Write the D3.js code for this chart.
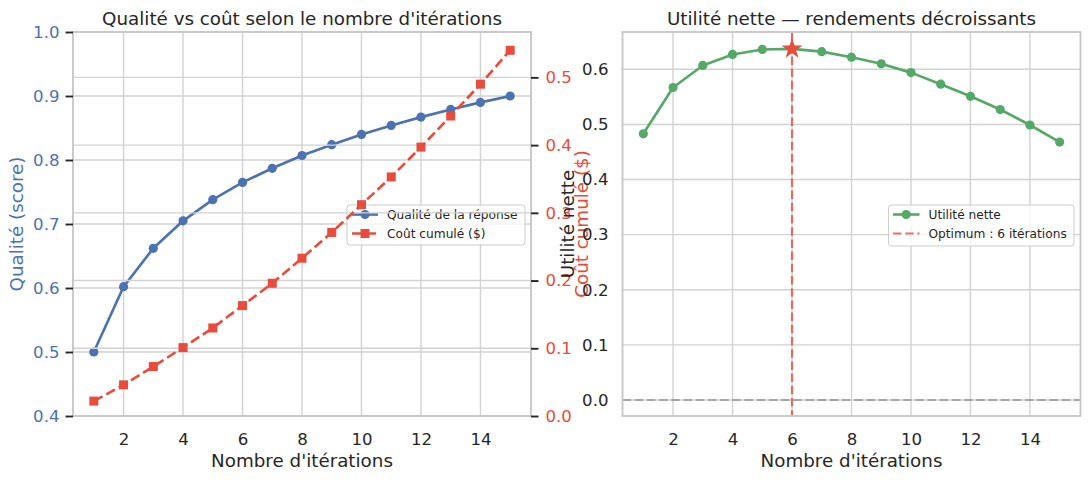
<!DOCTYPE html>
<html>
<head>
<meta charset="utf-8">
<script src="https://cdn.jsdelivr.net/npm/d3@7"></script>
<style>
  html, body { margin: 0; padding: 0; background: #ffffff; }
  svg { display: block; font-family: "DejaVu Sans", sans-serif; }
</style>
</head>
<body>
<svg id="chart" width="1090" height="482"></svg>
<script>
// ---------------- DATA ----------------
const iterations = [1, 2, 3, 4, 5, 6, 7, 8, 9, 10, 11, 12, 13, 14, 15];
const quality = [0.500, 0.602, 0.662, 0.705, 0.738, 0.765, 0.787, 0.807, 0.824, 0.840, 0.854, 0.867, 0.879, 0.890, 0.900];
const cost = [0.022, 0.046, 0.073, 0.101, 0.130, 0.163, 0.196, 0.233, 0.271, 0.312, 0.353, 0.397, 0.443, 0.490, 0.540];
const utility = [0.483, 0.567, 0.607, 0.627, 0.636, 0.637, 0.632, 0.622, 0.610, 0.594, 0.573, 0.551, 0.527, 0.499, 0.468];
const optimumIter = 6;
const xTicks = [2, 4, 6, 8, 10, 12, 14];
const qualityTicks = [0.4, 0.5, 0.6, 0.7, 0.8, 0.9, 1.0];
const costTicks = [0.0, 0.1, 0.2, 0.3, 0.4, 0.5];
const utilityTicks = [0.0, 0.1, 0.2, 0.3, 0.4, 0.5, 0.6];
const titleLeft = "Qualité vs coût selon le nombre d'itérations";
const titleRight = "Utilité nette — rendements décroissants";
const xLabel = "Nombre d'itérations";
const yLabelQuality = "Qualité (score)";
const yLabelCost = "Coût cumulé ($)";
const yLabelUtility = "Utilité nette";
const legendLeft = ["Qualité de la réponse", "Coût cumulé ($)"];
const legendRight = ["Utilité nette", "Optimum : 6 itérations"];

// ---------------- STYLE ----------------
const C = {
  text: "#262626", grid: "#d2d2d2", spine: "#c8c8c8",
  blue: "#4c72b0", red: "#e74c3c", green: "#55a868"
};
const FS = { title: 18.3, label: 18.3, tick: 16.6, legend: 12.2 };

const svg = d3.select("#chart");
svg.append("rect").attr("width", 1090).attr("height", 482).attr("fill", "#fff");

// ---------------- SCALES ----------------
const plotTop = 32, plotBottom = 416;
const x1 = d3.scaleLinear().domain([0.3, 15.7]).range([73, 531]);
const yQ = d3.scaleLinear().domain([0.4, 1.0]).range([plotBottom, plotTop]);
const yC = d3.scaleLinear().domain([0, 0.567]).range([plotBottom, plotTop]);
const x2 = d3.scaleLinear().domain([0.3, 15.7]).range([622.5, 1080.5]);
const yU = d3.scaleLinear().domain([-0.029, 0.6677]).range([plotBottom, plotTop]);
const fmt = d3.format(".1f");

function gridX(g, x, y0, y1) {
  g.selectAll(null).data(xTicks).enter().append("line")
    .attr("x1", d => x(d)).attr("x2", d => x(d))
    .attr("y1", y0).attr("y2", y1)
    .attr("stroke", C.grid).attr("stroke-width", 1.4);
}
function gridY(g, y, ticks, xa, xb) {
  g.selectAll(null).data(ticks).enter().append("line")
    .attr("x1", xa).attr("x2", xb)
    .attr("y1", d => y(d)).attr("y2", d => y(d))
    .attr("stroke", C.grid).attr("stroke-width", 1.4);
}
function frame(g, x, y) {
  g.append("rect")
    .attr("x", x.range()[0]).attr("y", y.range()[1])
    .attr("width", x.range()[1] - x.range()[0])
    .attr("height", y.range()[0] - y.range()[1])
    .attr("fill", "none").attr("stroke", C.spine).attr("stroke-width", 1.9);
}
function xAxis(g, x) {
  const ax = g.append("g").attr("transform", `translate(0,${plotBottom})`)
    .call(d3.axisBottom(x).tickValues(xTicks).tickSize(0).tickPadding(0).tickFormat(d3.format("d")));
  ax.select(".domain").remove();
  ax.selectAll("text").attr("font-size", FS.tick).attr("fill", C.text)
    .attr("font-family", "DejaVu Sans").attr("dy", null).attr("y", 29);
}
function lineSeries(g, x, y, vals, color, dash) {
  const line = d3.line().x((d, i) => x(iterations[i])).y(d => y(d));
  const p = g.append("path").datum(vals).attr("d", line)
    .attr("fill", "none").attr("stroke", color).attr("stroke-width", 2.65)
    .attr("stroke-linejoin", "round");
  if (dash) p.attr("stroke-dasharray", dash);
}
function legendBox(g, x0, y0, w, h) {
  g.append("rect").attr("x", x0).attr("y", y0).attr("width", w).attr("height", h)
    .attr("rx", 3).attr("fill", "#fff").attr("fill-opacity", 0.8)
    .attr("stroke", "#cccccc").attr("stroke-width", 1);
}

// ================= LEFT PANEL =================
const L = svg.append("g");
gridX(L, x1, plotTop, plotBottom);
gridY(L, yQ, qualityTicks, 73, 531);

// quality series
lineSeries(L, x1, yQ, quality, C.blue, null);
L.selectAll(null).data(quality).enter().append("circle")
  .attr("cx", (d, i) => x1(iterations[i])).attr("cy", d => yQ(d))
  .attr("r", 4.6).attr("fill", C.blue);

// legend (belongs to primary axes, drawn under twin axes)
{
  const lx = 347, ly = 205;
  legendBox(L, lx, ly, 178, 40);
  const rows = [9.5, 28.5];
  legendLeft.forEach((t, i) => {
    const cy = ly + rows[i];
    const col = i === 0 ? C.blue : C.red;
    const ln = L.append("line").attr("x1", lx + 5).attr("x2", lx + 31)
      .attr("y1", cy).attr("y2", cy).attr("stroke", col).attr("stroke-width", 2.65);
    if (i === 1) ln.attr("stroke-dasharray", "9.9,4.3");
    if (i === 0) L.append("circle").attr("cx", lx + 18).attr("cy", cy).attr("r", 4.6).attr("fill", col);
    else L.append("rect").attr("x", lx + 18 - 4.5).attr("y", cy - 4.5).attr("width", 9).attr("height", 9).attr("fill", col);
    L.append("text").attr("x", lx + 40).attr("y", cy + 4.4)
      .attr("font-size", FS.legend).attr("fill", C.text).text(t);
  });
}

// twin axes: grid + cost series
gridY(L, yC, costTicks, 73, 531);
lineSeries(L, x1, yC, cost, C.red, "9.9,4.3");
L.selectAll(null).data(cost).enter().append("rect")
  .attr("x", (d, i) => x1(iterations[i]) - 4.5).attr("y", d => yC(d) - 4.5)
  .attr("width", 9).attr("height", 9).attr("fill", C.red);

frame(L, x1, yQ);
xAxis(L, x1);

// left y axis (quality)
{
  const ax = L.append("g").attr("transform", "translate(73,0)")
    .call(d3.axisLeft(yQ).tickValues(qualityTicks).tickSize(7.5).tickPadding(6).tickFormat(fmt));
  ax.select(".domain").remove();
  ax.selectAll("line").attr("stroke", C.text).attr("stroke-width", 1.9);
  ax.selectAll("text").attr("font-size", FS.tick).attr("fill", C.blue).attr("font-family", "DejaVu Sans");
}
// right y axis (cost)
{
  const ax = L.append("g").attr("transform", "translate(531,0)")
    .call(d3.axisRight(yC).tickValues(costTicks).tickSize(7.5).tickPadding(7).tickFormat(fmt));
  ax.select(".domain").remove();
  ax.selectAll("line").attr("stroke", C.text).attr("stroke-width", 1.9);
  ax.selectAll("text").attr("font-size", FS.tick).attr("fill", C.red).attr("font-family", "DejaVu Sans");
}

L.append("text").attr("x", (73 + 531) / 2).attr("y", 25).attr("text-anchor", "middle")
  .attr("font-size", FS.title).attr("fill", C.text).text(titleLeft);
L.append("text").attr("x", (73 + 531) / 2).attr("y", 467).attr("text-anchor", "middle")
  .attr("font-size", FS.label).attr("fill", C.text).text(xLabel);
L.append("text").attr("transform", `translate(22.5,${(plotTop + plotBottom) / 2}) rotate(-90)`)
  .attr("text-anchor", "middle").attr("font-size", FS.label).attr("fill", C.blue).text(yLabelQuality);
L.append("text").attr("transform", `translate(588,${(plotTop + plotBottom) / 2}) rotate(-90)`)
  .attr("text-anchor", "middle").attr("font-size", FS.label).attr("fill", C.red).text(yLabelCost);

// ================= RIGHT PANEL =================
const R = svg.append("g");
gridX(R, x2, plotTop, plotBottom);
gridY(R, yU, utilityTicks, 622.5, 1080.5);

// zero line
R.append("line").attr("x1", 622.5).attr("x2", 1080.5)
  .attr("y1", yU(0)).attr("y2", yU(0))
  .attr("stroke", "#808080").attr("stroke-opacity", 0.6).attr("stroke-width", 2)
  .attr("stroke-dasharray", "8.5,3.7");
// optimum vertical line
R.append("line").attr("x1", x2(optimumIter)).attr("x2", x2(optimumIter))
  .attr("y1", plotTop).attr("y2", plotBottom)
  .attr("stroke", C.red).attr("stroke-opacity", 0.8).attr("stroke-width", 2.2)
  .attr("stroke-dasharray", "8.5,3.7");

lineSeries(R, x2, yU, utility, C.green, null);
R.selectAll(null).data(utility).enter().append("circle")
  .attr("cx", (d, i) => x2(iterations[i])).attr("cy", d => yU(d))
  .attr("r", 4.6).attr("fill", C.green);

// optimum star
{
  const idx = iterations.indexOf(optimumIter);
  R.append("path")
    .attr("d", d3.symbol(d3.symbolStar, 136)())
    .attr("transform", `translate(${x2(optimumIter)},${yU(utility[idx])})`)
    .attr("fill", C.red);
}

// legend
{
  const lx = 888.5, ly = 205;
  legendBox(R, lx, ly, 185.5, 41);
  const rows = [9.5, 28.5];
  legendRight.forEach((t, i) => {
    const cy = ly + rows[i];
    if (i === 0) {
      R.append("line").attr("x1", lx + 4.5).attr("x2", lx + 31)
        .attr("y1", cy).attr("y2", cy).attr("stroke", C.green).attr("stroke-width", 2.65);
      R.append("circle").attr("cx", lx + 17.7).attr("cy", cy).attr("r", 4.6).attr("fill", C.green);
    } else {
      R.append("line").attr("x1", lx + 4.5).attr("x2", lx + 31)
        .attr("y1", cy).attr("y2", cy).attr("stroke", C.red).attr("stroke-opacity", 0.8)
        .attr("stroke-width", 2.2).attr("stroke-dasharray", "8.5,3.7");
    }
    R.append("text").attr("x", lx + 40).attr("y", cy + 4.4)
      .attr("font-size", FS.legend).attr("fill", C.text).text(t);
  });
}

frame(R, x2, yU);
xAxis(R, x2);
{
  const ax = R.append("g").attr("transform", "translate(622.5,0)")
    .call(d3.axisLeft(yU).tickValues(utilityTicks).tickSize(0).tickPadding(14).tickFormat(fmt));
  ax.select(".domain").remove();
  ax.selectAll("text").attr("font-size", FS.tick).attr("fill", C.text).attr("font-family", "DejaVu Sans");
}

R.append("text").attr("x", (622.5 + 1080.5) / 2).attr("y", 25).attr("text-anchor", "middle")
  .attr("font-size", FS.title).attr("fill", C.text).text(titleRight);
R.append("text").attr("x", (622.5 + 1080.5) / 2).attr("y", 467).attr("text-anchor", "middle")
  .attr("font-size", FS.label).attr("fill", C.text).text(xLabel);
R.append("text").attr("transform", `translate(574,${(plotTop + plotBottom) / 2}) rotate(-90)`)
  .attr("text-anchor", "middle").attr("font-size", FS.label).attr("fill", C.text).text(yLabelUtility);
</script>
</body>
</html>
